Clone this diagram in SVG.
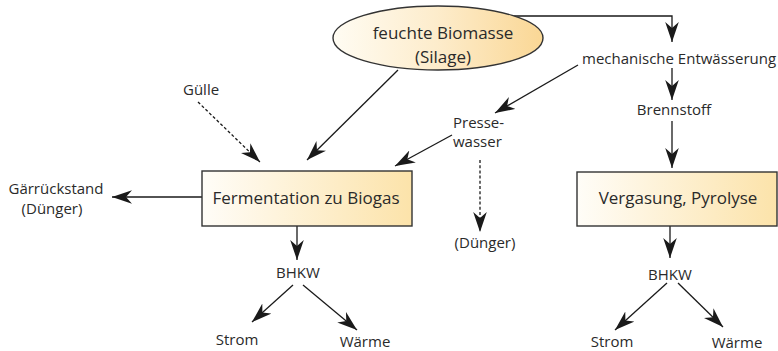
<svg xmlns="http://www.w3.org/2000/svg" width="778" height="351" viewBox="0 0 778 351">
<defs>
<linearGradient id="gBox" x1="0" y1="0" x2="1" y2="0">
<stop offset="0" stop-color="#fffdf8"/>
<stop offset="1" stop-color="#fce3aa"/>
</linearGradient>
<linearGradient id="gEll" x1="0" y1="0" x2="1" y2="0">
<stop offset="0" stop-color="#fffcf3"/>
<stop offset="0.5" stop-color="#fdeccb"/>
<stop offset="1" stop-color="#fad795"/>
</linearGradient>
<marker id="ah" viewBox="-20 -7 21 14" refX="0" refY="0" markerWidth="21" markerHeight="14" markerUnits="userSpaceOnUse" orient="auto">
<path d="M0,0 L-20,-6.8 L-14,0 L-20,6.8 Z" fill="#1a1a1a"/>
</marker>
</defs>
<style>
.t{font-family:"Open Sans","Noto Sans","Liberation Sans",sans-serif;fill:#2a2a2a;}
.s{font-size:15px;}
.b{font-size:17px;}
.c{stroke:#1a1a1a;stroke-width:1.3;fill:none;marker-end:url(#ah);}
.d{stroke-dasharray:3,2.2;}
.n{stroke:#333;stroke-width:1.4;}
</style>

<g id="connectors">
<polyline class="c" points="512,16 672,16 672,42"/>
<line class="c" x1="672" y1="68" x2="672" y2="100"/>
<line class="c" x1="672" y1="121" x2="672" y2="168"/>
<line class="c" x1="578" y1="65" x2="495" y2="113"/>
<line class="c" x1="452" y1="135" x2="395" y2="166"/>
<line class="c d" x1="480" y1="160" x2="480" y2="232"/>
<line class="c" x1="398" y1="70" x2="307" y2="160"/>
<line class="c d" x1="198" y1="102" x2="260" y2="162"/>
<line class="c" x1="202" y1="197" x2="112" y2="197"/>
<line class="c" x1="297" y1="226" x2="297" y2="260"/>
<line class="c" x1="293" y1="285" x2="252" y2="322"/>
<line class="c" x1="303" y1="285" x2="357" y2="330"/>
<line class="c" x1="670" y1="226" x2="670" y2="258"/>
<line class="c" x1="667" y1="283" x2="615" y2="330"/>
<line class="c" x1="678" y1="283" x2="723" y2="327"/>
</g>

<g id="biomasse">
<ellipse class="n" cx="438" cy="38" rx="105" ry="32" fill="url(#gEll)"/>
<text class="t b" x="443" y="39" text-anchor="middle">feuchte Biomasse</text>
<text class="t b" x="443" y="63" text-anchor="middle">(Silage)</text>
</g>

<g id="fermentation">
<rect class="n" x="202" y="171" width="210" height="55" fill="url(#gBox)"/>
<text class="t b" x="306" y="204" text-anchor="middle">Fermentation zu Biogas</text>
</g>

<g id="vergasung">
<rect class="n" x="577" y="172" width="200" height="54" fill="url(#gBox)"/>
<text class="t b" x="678" y="204" text-anchor="middle">Vergasung, Pyrolyse</text>
</g>

<g id="guelle"><text class="t s" x="183" y="95">Gülle</text></g>
<g id="gaerrueckstand">
<text class="t s" x="56" y="194" text-anchor="middle">Gärrückstand</text>
<text class="t s" x="52" y="214" text-anchor="middle">(Dünger)</text>
</g>
<g id="mechanische"><text class="t s" x="582" y="64">mechanische Entwässerung</text></g>
<g id="brennstoff"><text class="t s" x="674" y="115" text-anchor="middle">Brennstoff</text></g>
<g id="pressewasser">
<text class="t s" x="453" y="128">Presse-</text>
<text class="t s" x="453" y="147">wasser</text>
</g>
<g id="duenger2"><text class="t s" x="485" y="248" text-anchor="middle">(Dünger)</text></g>
<g id="bhkw1"><text class="t s" x="298" y="278" text-anchor="middle">BHKW</text></g>
<g id="strom1"><text class="t s" x="237" y="345" text-anchor="middle">Strom</text></g>
<g id="waerme1"><text class="t s" x="365" y="347" text-anchor="middle">Wärme</text></g>
<g id="bhkw2"><text class="t s" x="670" y="280" text-anchor="middle">BHKW</text></g>
<g id="strom2"><text class="t s" x="612" y="347" text-anchor="middle">Strom</text></g>
<g id="waerme2"><text class="t s" x="737" y="348" text-anchor="middle">Wärme</text></g>
</svg>
